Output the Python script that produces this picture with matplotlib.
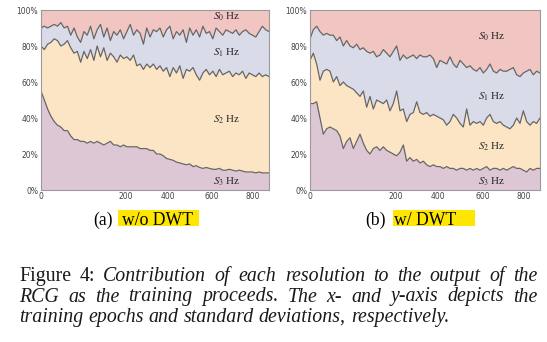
import numpy as np
import matplotlib
matplotlib.use('Agg')
import matplotlib.pyplot as plt
from matplotlib.patches import Rectangle
from matplotlib.ticker import PercentFormatter

plt.rcParams['mathtext.fontset'] = 'stix'

# cumulative share (%) of the output at each logged step, bottom band first
# (a) w/o DWT
a_s3 = [55, 50, 45, 41, 38, 36, 35, 33, 33, 30,
        28, 28, 27, 27, 26, 27, 26, 27, 26, 25,
        26, 27, 25, 25, 24, 25, 24, 24, 24, 24,
        23, 23, 23, 22, 22, 20, 20, 19, 17.5, 17,
        16.5, 15.5, 15, 14.5, 14, 14.5, 13, 13.5, 12.5, 12,
        12.5, 12, 11.5, 11.5, 12, 11, 11, 11.5, 11, 10.5,
        11, 10.5, 10, 10, 10, 9.5, 10, 9.5, 9.5, 9.5]
a_s2 = [80, 78, 81, 82, 84, 83, 80, 81, 83, 79,
        76, 77, 71, 77, 73, 78, 72, 80, 74, 79,
        72, 76, 74, 71, 75, 73, 74, 72, 75, 69,
        70, 67, 70, 68, 70, 67, 69, 66, 68, 63,
        68, 65, 69, 62, 67, 66, 68, 64, 61, 65,
        67, 64, 66, 63, 67, 64, 65, 66, 63, 65,
        64, 66, 62, 65, 64, 63, 65, 63, 64, 63]
a_s1 = [90, 91, 90, 91, 92, 91, 93, 90, 91, 86,
        90, 85, 82, 88, 86, 91, 84, 89, 92, 85,
        90, 83, 88, 86, 89, 84, 88, 92, 86, 89,
        87, 81, 90, 85, 89, 88, 90, 85, 89, 91,
        84, 88, 86, 89, 82, 90, 86, 89, 85, 91,
        87, 88, 84, 90, 88, 86, 89, 88, 87, 89,
        86, 88, 89, 87, 86, 85, 88, 91, 89, 88]

# (b) w/ DWT
b_s3 = [48, 48, 49, 40, 31, 34, 35, 34, 33, 30,
        23, 27, 29, 23, 27, 31, 26, 22, 20, 23,
        24, 22, 24, 22, 21, 20, 19, 21, 25, 16,
        18, 16, 17, 15, 16, 14, 13, 14, 13, 13,
        12, 13, 12, 12, 11, 12, 12, 11, 12, 11,
        12, 11, 12, 13, 11, 12, 12, 11, 12, 11,
        12, 13, 12, 12, 11, 10, 12, 11, 12, 12]
b_s2 = [72, 76, 70, 61, 66, 67, 66, 60, 63, 58,
        60, 58, 57, 56, 54, 52, 55, 46, 52, 45,
        50, 49, 48, 50, 44, 48, 55, 44, 45, 38,
        42, 43, 49, 43, 42, 43, 41, 42, 41, 40,
        39, 36, 38, 42, 40, 37, 35, 45, 36, 38,
        37, 38, 36, 40, 42, 38, 37, 38, 36, 35,
        34, 36, 40, 37, 44, 38, 36, 38, 37, 40]
b_s1 = [84, 89, 91, 88, 86, 87, 86, 86, 83, 85,
        80, 83, 80, 79, 81, 78, 79, 77, 76, 77,
        74, 75, 78, 76, 74, 77, 80, 72, 75, 73,
        74, 75, 73, 75, 74, 74, 75, 73, 68, 72,
        71, 70, 74, 70, 68, 72, 70, 68, 69, 67,
        66, 68, 65, 67, 70, 66, 65, 67, 66, 66,
        67, 68, 64, 63, 65, 66, 67, 64, 66, 65]

band_names = [r'$S_0$ Hz', r'$S_1$ Hz', r'$S_2$ Hz', r'$S_3$ Hz']
xtick_labels = ['0', '200', '400', '600', '800']
yticks = [0, 20, 40, 60, 80, 100]

# fill colours top band -> bottom band
band_colors = ['#f1c5c1', '#dadbe9', '#fbe5c5', '#dec7d4']
line_color = '#666666'
W, H = 547, 342


def draw_panel(ax, s3, s2, s1, label_pos):
    x = np.arange(len(s3))
    ax.fill_between(x, s1, 100, color=band_colors[0], lw=0)
    ax.fill_between(x, s2, s1, color=band_colors[1], lw=0)
    ax.fill_between(x, s3, s2, color=band_colors[2], lw=0)
    ax.fill_between(x, 0, s3, color=band_colors[3], lw=0)
    for b in (s3, s2, s1):
        ax.plot(x, b, color=line_color, lw=0.9)
    ax.set_xlim(0, len(x) - 1)
    ax.set_ylim(0, 100)
    # tick spacing of the original axis is not uniform (first gap is wider)
    tick_frac = [0, 0.373, 0.557, 0.75, 0.93]
    ax.set_xticks([f * (len(x) - 1) for f in tick_frac])
    ax.set_xticklabels(xtick_labels)
    ax.set_yticks(yticks)
    ax.yaxis.set_major_formatter(PercentFormatter(decimals=0))
    ax.tick_params(length=0, labelsize=5.5, labelcolor='#444444')
    ax.tick_params(axis='x', pad=1.5)
    ax.tick_params(axis='y', pad=2)
    for sp in ax.spines.values():
        sp.set_color('#9a9a9a')
        sp.set_linewidth(0.8)
    for name, (tx, ty) in zip(band_names, label_pos):
        ax.text(tx, ty, name, transform=ax.transAxes, ha='center', va='center',
                fontsize=8, family='Liberation Serif', color='#222222')


fig = plt.figure(figsize=(W / 100, H / 100), dpi=100)
ax1 = fig.add_axes([41 / W, 1 - 190 / H, 228 / W, 180 / H])
ax2 = fig.add_axes([310 / W, 1 - 190 / H, 230 / W, 180 / H])

draw_panel(ax1, a_s3, a_s2, a_s1,
           [(0.815, 0.963), (0.815, 0.76), (0.815, 0.389), (0.815, 0.044)])
draw_panel(ax2, b_s3, b_s2, b_s1,
           [(0.79, 0.85), (0.79, 0.52), (0.79, 0.24), (0.79, 0.046)])


def fx(px):
    return px / W


def fy(py):
    return 1 - py / H


# sub-captions with yellow highlight
serif = 'Liberation Serif'
for (x0, x1, y0, y1) in [(118, 199.5, 209.5, 225.5), (393, 475, 210, 226)]:
    fig.add_artist(Rectangle((fx(x0), fy(y1)), fx(x1 - x0), (y1 - y0) / H,
                             transform=fig.transFigure, color='#ffe600', lw=0, zorder=0))
sub_fs = 12.7
fig.text(fx(93.5), fy(225), '(a)', fontsize=sub_fs, family=serif, va='baseline')
fig.text(fx(122), fy(225), 'w/o DWT', fontsize=sub_fs, family=serif, va='baseline')
fig.text(fx(365), fy(225), '(b)', fontsize=sub_fs, family=serif, va='baseline')
fig.text(fx(394), fy(225), 'w/ DWT', fontsize=sub_fs, family=serif, va='baseline')

# figure caption, justified like the paper
caption_lines = [
    ([('Figure', 'normal'), ('4:', 'normal')] +
     [(w, 'italic') for w in 'Contribution of each resolution to the output of the'.split()], True),
    ([(w, 'italic') for w in 'RCG as the training proceeds.  The x- and y-axis depicts the'.split()], True),
    ([(w, 'italic') for w in 'training epochs and standard deviations, respectively.'.split()], False),
]
cap_fs = 14.3
baselines = [281, 301.5, 322]
left, right = 19, 537.5
renderer = fig.canvas.get_renderer()
for (words, justify), base in zip(caption_lines, baselines):
    texts = [fig.text(0, fy(base), w, fontsize=cap_fs, family=serif, style=s,
                      va='baseline', color='#1a1a1a') for w, s in words]
    widths = [t.get_window_extent(renderer).width for t in texts]
    if justify:
        gap = (right - left - sum(widths)) / (len(texts) - 1)
    else:
        gap = 0.25 * cap_fs * 100 / 72
    pos = left
    for t, w in zip(texts, widths):
        t.set_x(fx(pos))
        pos += w + gap

fig.savefig('out.png', dpi=100)
